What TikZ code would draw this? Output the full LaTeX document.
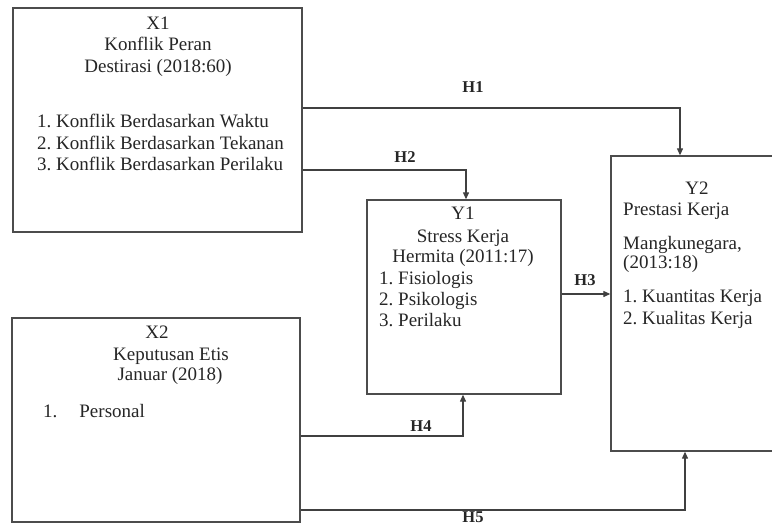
\documentclass[tikz,border=0pt]{standalone}
\usepackage{fontspec}
\setmainfont{Liberation Serif}
\usetikzlibrary{arrows.meta}
\begin{document}
\begin{tikzpicture}[x=1pt,y=-1pt,
  box/.style={draw=black!70,line width=1.3pt,inner sep=0pt,fill=white},
  arr/.style={draw=black!75,line width=1.1pt,-{Triangle[length=7pt,width=6pt]}},
  txt/.style={font=\fontsize{19}{22}\selectfont,text=black!85,inner sep=0pt},
  lab/.style={font=\fontsize{16.5}{18}\selectfont\bfseries,text=black!85,inner sep=0pt}]
\useasboundingbox (0,0) rectangle (772,527);
\clip (0,0) rectangle (772,527);
% boxes
\node[box,minimum width=289pt,minimum height=224pt] (X1) at (157.5,120) {};
\node[box,minimum width=288pt,minimum height=204pt] (X2) at (156,420) {};
\node[box,minimum width=194pt,minimum height=194pt] (Y1) at (464,297) {};
\node[box,minimum width=189pt,minimum height=295pt] (Y2) at (705.5,303.5) {};
% X1 text
\node[txt,anchor=mid] (x1a) at (158,27) {X1};
\node[txt,anchor=mid] (x1b) at (158,48) {Konflik Peran};
\node[txt,anchor=mid] (x1c) at (158,70) {Destirasi (2018:60)};
\node[txt,anchor=mid west] (x1d) at (37,125) {1.\ Konflik Berdasarkan Waktu};
\node[txt,anchor=mid west] (x1e) at (37,147) {2.\ Konflik Berdasarkan Tekanan};
\node[txt,anchor=mid west] (x1f) at (37,168) {3.\ Konflik Berdasarkan Perilaku};
% X2 text
\node[txt,anchor=mid] (x2a) at (157,336) {X2};
\node[txt,anchor=mid] (x2b) at (171,358) {Keputusan Etis};
\node[txt,anchor=mid] (x2c) at (170,378) {Januar (2018)};
\node[txt,anchor=mid west] (x2d) at (43,415) {1.\hspace{22pt}Personal};
% Y1 text
\node[txt,anchor=mid] (y1a) at (463,217) {Y1};
\node[txt,anchor=mid] (y1b) at (463,240) {Stress Kerja};
\node[txt,anchor=mid] (y1c) at (463,260) {Hermita (2011:17)};
\node[txt,anchor=mid west] (y1d) at (379,282) {1.\ Fisiologis};
\node[txt,anchor=mid west] (y1e) at (379,303) {2.\ Psikologis};
\node[txt,anchor=mid west] (y1f) at (379,324) {3.\ Perilaku};
% Y2 text
\node[txt,anchor=mid] (y2a) at (697,192) {Y2};
\node[txt,anchor=mid west] (y2b) at (623,213) {Prestasi Kerja};
\node[txt,anchor=mid west] (y2c) at (623,247) {Mangkunegara,};
\node[txt,anchor=mid west] (y2d) at (623,266) {(2013:18)};
\node[txt,anchor=mid west] (y2e) at (623,300) {1.\ Kuantitas Kerja};
\node[txt,anchor=mid west] (y2f) at (623,322) {2.\ Kualitas Kerja};
% connectors
\coordinate (h1) at (680,108);
\coordinate (h2) at (466,170);
\coordinate (h3) at (561,294);
\coordinate (h4) at (463,436);
\coordinate (h5) at (685,510);
\draw[arr] (X1.east |- h1) -- (h1) -- (h1 |- Y2.north);
\draw[arr] (X1.east |- h2) -- (h2) -- (h2 |- Y1.north);
\draw[arr] (Y1.east |- h3) -- (Y2.west |- h3);
\draw[arr] (X2.east |- h4) -- (h4) -- (h4 |- Y1.south);
\draw[arr] (X2.east |- h5) -- (h5) -- (h5 |- Y2.south);
% labels
\node[lab] (l1) at (473,87) {H1};
\node[lab] (l2) at (405,157) {H2};
\node[lab] (l3) at (585,280) {H3};
\node[lab] (l4) at (421,426) {H4};
\node[lab] (l5) at (473,517) {H5};
\end{tikzpicture}
\end{document}
